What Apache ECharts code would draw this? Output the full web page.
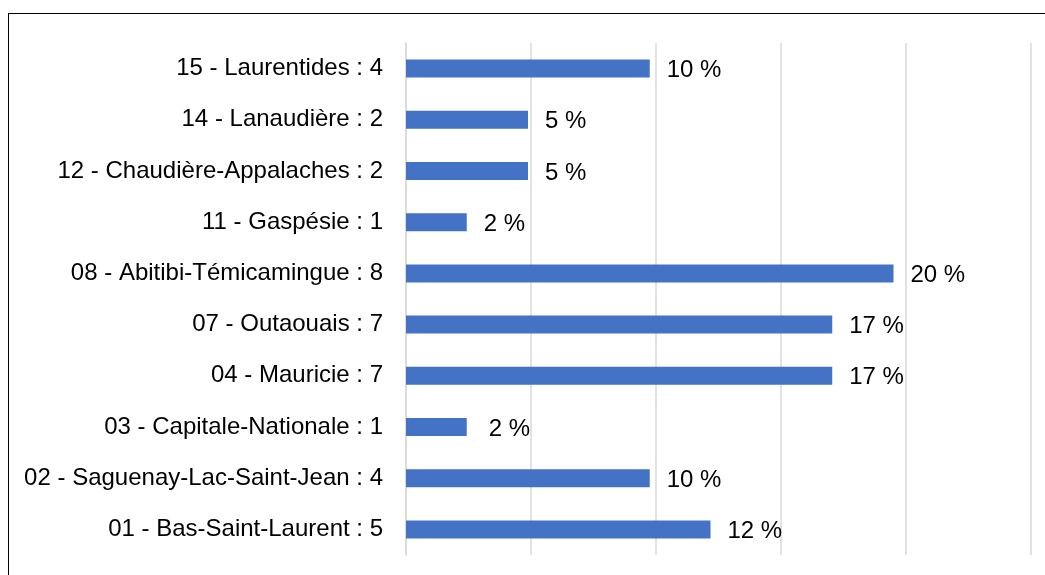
<!DOCTYPE html>
<html>
<head>
<meta charset="utf-8">
<script src="https://cdn.jsdelivr.net/npm/echarts@6/dist/echarts.min.js"></script>
<style>
    html, body { margin: 0; padding: 0; background: #fff; overflow: hidden; }
    #frame { position: absolute; left: 8px; top: 13px; width: 1100px; height: 600px; border: 1.5px solid #000; box-sizing: border-box; }
    #main { position: absolute; left: 0; top: 0; width: 1045px; height: 575px; }
</style>
</head>
<body>
<div id="frame"></div>
<div id="main"></div>
<script>
// regions, top to bottom as drawn
let regions = ['15 - Laurentides', '14 - Lanaudière', '12 - Chaudière-Appalaches', '11 - Gaspésie',
    '08 - Abitibi-Témicamingue', '07 - Outaouais', '04 - Mauricie', '03 - Capitale-Nationale',
    '02 - Saguenay-Lac-Saint-Jean', '01 - Bas-Saint-Laurent'];
let counts = [4, 2, 2, 1, 8, 7, 7, 1, 4, 5];
// share of total (%)
let shares = [9.75, 4.88, 4.88, 2.43, 19.5, 17.05, 17.05, 2.43, 9.75, 12.18];
let shareLabels = ['10 %', '5 %', '5 %', '2 %', '20 %', '17 %', '17 %', '2 %', '10 %', '12 %'];

let categories = regions.map((r, i) => r + ' : ' + counts[i]);

var myChart = echarts.init(document.getElementById('main'));

var option = {
    animation: false,
    grid: { left: 406, right: 14, top: 43, bottom: 20, containLabel: false },
    xAxis: {
        type: 'value',
        min: 0,
        max: 25,
        interval: 5,
        axisLabel: { show: false },
        axisLine: { show: false },
        axisTick: { show: false },
        splitLine: { show: true, lineStyle: { color: '#d9d9d9', width: 1.5 } }
    },
    yAxis: {
        type: 'category',
        inverse: true,
        data: categories,
        axisLine: { show: true, lineStyle: { color: '#d9d9d9', width: 1.5 } },
        axisTick: { show: false },
        axisLabel: {
            margin: 23,
            color: '#000',
            fontFamily: 'Liberation Sans, Arial, sans-serif',
            fontSize: 24,
            padding: [3, 0, 0, 0]
        }
    },
    series: [
        {
            type: 'bar',
            barWidth: 18,
            itemStyle: { color: '#4472C4' },
            label: {
                show: true,
                position: 'right',
                distance: 17,
                offset: [0, 2],
                color: '#000',
                fontFamily: 'Liberation Sans, Arial, sans-serif',
                fontSize: 24,
                formatter: (p) => shareLabels[p.dataIndex]
            },
            data: shares.map((v, i) => i === 7 ? { value: v, label: { distance: 22 } } : v)
        }
    ]
};

myChart.setOption(option);
</script>
</body>
</html>
